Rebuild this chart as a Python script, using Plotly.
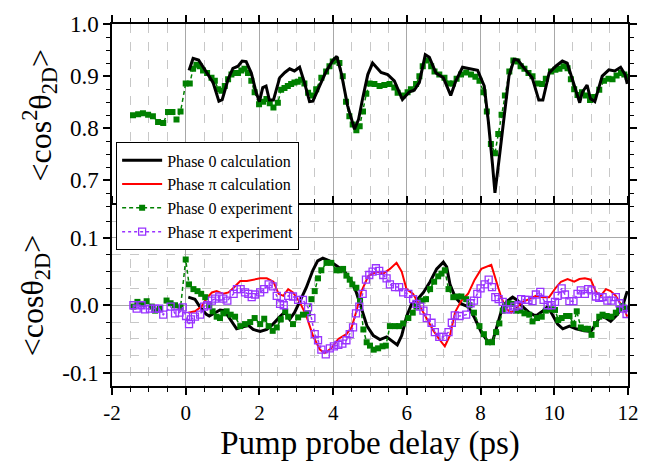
import plotly.graph_objects as go
from plotly.subplots import make_subplots

# ---------------- data ----------------
# Top panel: <cos^2 theta_2D>
calc0_top_x = [0.09, 0.2, 0.35, 0.56, 0.74, 0.90, 0.99, 1.15, 1.28, 1.42, 1.53, 1.64, 1.78, 1.91, 2.0,
               2.09, 2.18, 2.27, 2.38, 2.55, 2.69, 2.82, 2.95, 3.09, 3.22, 3.36, 3.45, 3.63, 3.81, 3.99,
               4.10, 4.22, 4.39, 4.58, 4.69, 4.80, 4.94, 5.07, 5.25, 5.30, 5.48, 5.66, 5.88, 6.07, 6.20,
               6.34, 6.50, 6.61, 6.79, 6.99, 7.19, 7.33, 7.51, 7.69, 7.92, 8.10, 8.21, 8.32, 8.39, 8.50,
               8.64, 8.77, 8.91, 9.01, 9.22, 9.40, 9.58, 9.69, 9.86, 10.04, 10.22, 10.35, 10.49, 10.69,
               10.76, 10.89, 10.98, 11.10, 11.30, 11.48, 11.64, 11.80, 11.92, 11.98]
calc0_top_y = [0.911, 0.934, 0.931, 0.909, 0.888, 0.852, 0.855, 0.894, 0.915, 0.919, 0.929, 0.928, 0.906, 0.869, 0.851,
               0.878, 0.881, 0.854, 0.854, 0.897, 0.907, 0.914, 0.910, 0.917, 0.888, 0.851, 0.852, 0.881, 0.909, 0.930,
               0.938, 0.906, 0.844, 0.798, 0.817, 0.857, 0.903, 0.925, 0.912, 0.907, 0.903, 0.891, 0.855, 0.870, 0.873,
               0.888, 0.941, 0.936, 0.906, 0.897, 0.863, 0.891, 0.917, 0.914, 0.911, 0.881, 0.814, 0.733, 0.676, 0.739,
               0.826, 0.900, 0.932, 0.931, 0.912, 0.897, 0.854, 0.854, 0.906, 0.919, 0.929, 0.925, 0.894, 0.849,
               0.869, 0.883, 0.857, 0.851, 0.900, 0.912, 0.910, 0.917, 0.903, 0.885]

exp0_top_x = [-1.43, -1.29, -1.16, -1.02, -0.89, -0.75, -0.61, -0.48, -0.36, -0.25, -0.14, 0.0, 0.11, 0.20,
              0.29, 0.38, 0.47, 0.58, 0.70, 0.79, 0.88, 0.97, 1.06, 1.15, 1.24, 1.33, 1.42, 1.51, 1.60, 1.69,
              1.78, 1.87, 1.99, 2.10, 2.19, 2.28, 2.38, 2.50, 2.59, 2.68, 2.77, 2.86, 2.95, 3.04, 3.13, 3.22,
              3.32, 3.45, 3.54, 3.68, 3.81, 3.90, 3.99, 4.08, 4.17, 4.26, 4.35, 4.44, 4.53, 4.63, 4.72, 4.81,
              4.90, 4.99, 5.12, 5.26, 5.39, 5.53, 5.66, 5.75, 5.89, 6.02, 6.11, 6.25, 6.34, 6.43, 6.54, 6.66,
              6.75, 6.88, 7.02, 7.14, 7.25, 7.35, 7.47, 7.61, 7.74, 7.86, 7.97, 8.08, 8.17, 8.28, 8.39, 8.48,
              8.57, 8.66, 8.78, 8.89, 9.00, 9.09, 9.19, 9.30, 9.41, 9.55, 9.67, 9.77, 9.91, 10.03, 10.14, 10.25,
              10.36, 10.45, 10.54, 10.63, 10.75, 10.86, 10.97, 11.08, 11.22, 11.35, 11.47, 11.58, 11.69, 11.81,
              11.90, 11.99]
exp0_top_y = [0.825, 0.827, 0.829, 0.826, 0.823, 0.812, 0.810, 0.831, 0.831, 0.817, 0.832, 0.886, 0.886, 0.914,
              0.922, 0.919, 0.911, 0.906, 0.897, 0.891, 0.875, 0.872, 0.881, 0.894, 0.903, 0.906, 0.906, 0.911, 0.914, 0.906,
              0.891, 0.869, 0.846, 0.851, 0.856, 0.848, 0.840, 0.849, 0.874, 0.877, 0.881, 0.885, 0.888, 0.889, 0.893, 0.886,
              0.868, 0.863, 0.875, 0.897, 0.909, 0.919, 0.928, 0.931, 0.925, 0.900, 0.851, 0.823, 0.807, 0.796, 0.804, 0.832,
              0.866, 0.886, 0.885, 0.881, 0.883, 0.885, 0.878, 0.868, 0.863, 0.869, 0.875, 0.885, 0.900, 0.919, 0.930, 0.919,
              0.909, 0.903, 0.897, 0.886, 0.886, 0.895, 0.903, 0.907, 0.903, 0.899, 0.891, 0.869, 0.832, 0.770, 0.752, 0.789,
              0.826, 0.863, 0.909, 0.930, 0.928, 0.919, 0.914, 0.906, 0.900, 0.886, 0.885, 0.895, 0.909, 0.912, 0.914, 0.919,
              0.915, 0.894, 0.875, 0.864, 0.869, 0.863, 0.854, 0.860, 0.874, 0.891, 0.895, 0.894, 0.901, 0.906,
              0.903, 0.899]

# Bottom panel: <cos theta_2D>
calc0_bot_x = [0.07, 0.25, 0.38, 0.55, 0.64, 0.78, 0.93, 1.05, 1.2, 1.38, 1.55, 1.70, 1.83, 2.02, 2.2, 2.37,
               2.55, 2.69, 2.82, 2.95, 3.09, 3.27, 3.45, 3.58, 3.72, 3.90, 4.08, 4.31, 4.50, 4.63, 4.77, 4.92,
               5.09, 5.27, 5.45, 5.63, 5.74, 5.86, 5.99, 6.13, 6.26, 6.45, 6.63, 6.81, 6.99, 7.08, 7.17, 7.31,
               7.48, 7.66, 7.84, 8.02, 8.20, 8.33, 8.47, 8.60, 8.74, 8.87, 9.01, 9.14, 9.32, 9.5, 9.68, 9.82,
               9.95, 10.09, 10.23, 10.41, 10.59, 10.81, 10.99, 11.13, 11.26, 11.40, 11.53, 11.71, 11.85, 11.98]
calc0_bot_y = [0.012, 0.009, -0.002, -0.013, -0.016, -0.012, -0.007, -0.008, -0.021, -0.035, -0.032, -0.030, -0.036, -0.039, -0.036, -0.028,
               -0.017, -0.010, -0.021, -0.011, 0.005, 0.026, 0.052, 0.066, 0.070, 0.066, 0.059, 0.050, 0.035, 0.019, -0.005, -0.031,
               -0.045, -0.051, -0.047, -0.054, -0.059, -0.045, -0.017, 0.002, 0.007, 0.019, 0.035, 0.054, 0.064, 0.057, 0.031, 0.012,
               0.002, -0.002, -0.019, -0.040, -0.054, -0.053, -0.026, -0.002, 0.007, 0.012, 0.007, -0.002, -0.011, -0.016, -0.009, -0.002,
               -0.014, -0.028, -0.035, -0.031, -0.035, -0.038, -0.039, -0.028, -0.016, -0.019, -0.024, -0.014, -0.002, 0.021]

calcpi_bot_x = [0.07, 0.25, 0.43, 0.55, 0.71, 0.84, 1.02, 1.16, 1.30, 1.48, 1.66, 1.84, 2.02, 2.20, 2.38, 2.52,
                2.65, 2.78, 2.91, 3.09, 3.27, 3.45, 3.64, 3.77, 3.95, 4.14, 4.36, 4.50, 4.63, 4.77, 4.95, 5.18,
                5.36, 5.54, 5.72, 5.86, 5.99, 6.17, 6.36, 6.54, 6.72, 6.90, 7.03, 7.17, 7.31, 7.48, 7.66, 7.84,
                8.02, 8.29, 8.42, 8.56, 8.69, 8.83, 8.96, 9.14, 9.32, 9.5, 9.68, 9.86, 10.04, 10.18, 10.36, 10.54,
                10.68, 10.83, 10.99, 11.13, 11.26, 11.40, 11.53, 11.67, 11.80, 11.89, 11.98]
calcpi_bot_y = [-0.011, -0.009, -0.002, 0.009, 0.019, 0.021, 0.017, 0.019, 0.026, 0.036, 0.036, 0.038, 0.040, 0.040, 0.035, 0.017,
                0.014, 0.024, 0.019, 0.005, -0.015, -0.045, -0.066, -0.071, -0.064, -0.050, -0.043, -0.033, -0.009, 0.021, 0.043, 0.050,
                0.047, 0.054, 0.063, 0.050, 0.024, 0.017, -0.002, -0.021, -0.038, -0.052, -0.061, -0.045, -0.010, 0.007, 0.017, 0.038,
                0.054, 0.060, 0.035, 0.012, -0.005, -0.011, -0.005, 0.005, 0.009, 0.014, 0.012, 0.012, 0.026, 0.035, 0.039, 0.035,
                0.039, 0.040, 0.038, 0.020, 0.014, 0.024, 0.021, 0.014, 0.002, -0.005, -0.017]

exp0_bot_x = [-1.42, -1.31, -1.17, -1.06, -0.92, -0.83, -0.70, -0.52, -0.41, -0.29, -0.14, 0.0, 0.09, 0.21,
              0.32, 0.42, 0.53, 0.64, 0.73, 0.84, 0.93, 1.02, 1.11, 1.22, 1.34, 1.48, 1.61, 1.75, 1.87, 2.02,
              2.13, 2.25, 2.36, 2.47, 2.58, 2.70, 2.78, 2.91, 3.05, 3.18, 3.32, 3.41, 3.50, 3.59, 3.68, 3.82,
              3.95, 4.09, 4.18, 4.27, 4.36, 4.45, 4.52, 4.63, 4.73, 4.82, 4.91, 5.00, 5.10, 5.22, 5.34, 5.43,
              5.54, 5.68, 5.79, 5.90, 6.04, 6.16, 6.26, 6.40, 6.52, 6.63, 6.74, 6.85, 6.94, 7.03, 7.13, 7.26,
              7.37, 7.48, 7.61, 7.70, 7.82, 7.97, 8.09, 8.20, 8.31, 8.42, 8.51, 8.60, 8.67, 8.76, 8.85, 8.96,
              9.08, 9.19, 9.32, 9.41, 9.53, 9.66, 9.77, 9.91, 10.02, 10.11, 10.20, 10.32, 10.41, 10.52, 10.61,
              10.72, 10.83, 10.92, 11.01, 11.13, 11.22, 11.31, 11.42, 11.55, 11.67, 11.76, 11.85, 11.94]
exp0_bot_y = [-0.002, 0.005, 0.002, 0.006, -0.002, -0.008, -0.005, 0.007, 0.003, 0.0, -0.003, 0.068, 0.031, 0.024,
              0.021, 0.017, 0.012, 0.0, -0.009, -0.017, -0.019, -0.012, -0.009, -0.014, -0.017, -0.031, -0.028, -0.025, -0.019, -0.028,
              -0.020, -0.031, -0.038, -0.033, -0.021, -0.009, -0.017, -0.028, -0.018, -0.014, -0.012, 0.009, 0.021, 0.040, 0.052, 0.063,
              0.063, 0.052, 0.052, 0.054, 0.044, 0.038, 0.031, 0.026, 0.007, -0.036, -0.055, -0.060, -0.066, -0.064, -0.061, -0.060,
              -0.031, -0.031, -0.031, -0.027, -0.019, -0.011, -0.002, 0.007, 0.009, 0.024, 0.035, 0.043, 0.047, 0.052, 0.024, 0.012,
              0.013, 0.013, 0.009, 0.0, -0.011, -0.031, -0.043, -0.055, -0.055, -0.040, -0.027, -0.008, 0.0, 0.003, 0.002, -0.008,
              -0.008, -0.012, -0.014, -0.024, -0.019, -0.017, -0.008, -0.006, -0.007, -0.022, -0.019, -0.016, -0.016, -0.028, -0.009,
              -0.033, -0.035, -0.035, -0.044, -0.028, -0.017, -0.014, -0.016, -0.017, -0.011, -0.005, -0.001, -0.005]

exppi_bot_x = [-1.42, -1.33, -1.20, -1.10, -0.97, -0.83, -0.72, -0.61, -0.41, -0.29, -0.17, -0.08, 0.01, 0.09,
               0.14, 0.25, 0.39, 0.50, 0.59, 0.71, 0.80, 0.91, 1.02, 1.13, 1.30, 1.39, 1.49, 1.61, 1.70, 1.79,
               1.88, 2.02, 2.13, 2.25, 2.36, 2.47, 2.56, 2.66, 2.78, 2.91, 3.05, 3.18, 3.32, 3.41, 3.50, 3.59,
               3.68, 3.80, 3.91, 4.02, 4.14, 4.25, 4.36, 4.45, 4.54, 4.62, 4.71, 4.80, 4.89, 4.98, 5.07, 5.16,
               5.25, 5.36, 5.45, 5.54, 5.68, 5.79, 5.90, 6.04, 6.17, 6.26, 6.36, 6.45, 6.54, 6.67, 6.76, 6.88,
               6.99, 7.13, 7.22, 7.30, 7.43, 7.61, 7.73, 7.82, 7.91, 8.00, 8.11, 8.22, 8.31, 8.40, 8.49, 8.60,
               8.69, 8.81, 8.92, 9.03, 9.10, 9.21, 9.30, 9.41, 9.50, 9.62, 9.71, 9.82, 9.93, 10.02, 10.09, 10.20,
               10.29, 10.41, 10.52, 10.63, 10.72, 10.83, 10.92, 11.01, 11.13, 11.22, 11.31, 11.44, 11.55, 11.67,
               11.77, 11.87, 11.96]
exppi_bot_y = [0.0, -0.005, 0.0, -0.006, -0.005, -0.005, -0.005, -0.014, -0.002, -0.012, -0.011, -0.003, -0.016, -0.028,
               -0.021, -0.017, -0.014, -0.002, 0.0, 0.007, 0.010, 0.013, 0.010, 0.007, 0.017, 0.024, 0.024, 0.019, 0.017, 0.012,
               0.016, 0.019, 0.024, 0.031, 0.028, 0.014, 0.002, 0.0, 0.014, 0.013, 0.008, 0.008, -0.003, -0.019, -0.043, -0.052,
               -0.066, -0.073, -0.064, -0.061, -0.059, -0.057, -0.052, -0.043, -0.033, -0.012, -0.002, 0.017, 0.038, 0.045, 0.050, 0.055,
               0.051, 0.045, 0.040, 0.031, 0.027, 0.027, 0.019, 0.017, 0.009, 0.002, -0.002, -0.008, -0.019, -0.026, -0.040, -0.047,
               -0.047, -0.040, -0.026, -0.015, -0.016, -0.014, 0.003, 0.007, 0.017, 0.025, 0.031, 0.038, 0.027, 0.012, 0.009, 0.005,
               -0.006, -0.006, -0.002, 0.0, 0.009, 0.008, 0.008, 0.006, 0.016, 0.020, 0.008, 0.0, 0.0, 0.005, 0.014, 0.025,
               0.016, 0.006, 0.006, 0.017, 0.022, 0.017, 0.024, 0.022, 0.013, 0.011, 0.012, 0.007, 0.007, 0.012,
               0.003, -0.005, -0.013]

x_tickvals = [-2, 0, 2, 4, 6, 8, 10, 12]
x_ticktext = ["-2", "0", "2", "4", "6", "8", "10", "12"]
ytop_tickvals = [0.7, 0.8, 0.9, 1.0]
ytop_ticktext = ["0.7", "0.8", "0.9", "1.0"]
ybot_tickvals = [-0.1, 0.0, 0.1]
ybot_ticktext = ["-0.1", "0.0", "0.1"]

names = ["Phase 0 calculation", "Phase \u03c0 calculation", "Phase 0 experiment", "Phase \u03c0 experiment"]

# ---------------- figure ----------------
FONT = "'Liberation Serif', 'Times New Roman', serif"
BLACK = "#000000"
RED = "#ff0000"
GREEN = "#008000"
PURPLE = "#9933ff"

fig = make_subplots(rows=2, cols=1, shared_xaxes=True, vertical_spacing=0)

# top panel
fig.add_trace(go.Scatter(x=exp0_top_x, y=exp0_top_y, mode="lines+markers", showlegend=False,
                         line=dict(color=GREEN, width=1.5, dash="4px,3px"),
                         marker=dict(symbol="square", size=6, color=GREEN)), row=1, col=1)
fig.add_trace(go.Scatter(x=calc0_top_x, y=calc0_top_y, mode="lines", showlegend=False,
                         line=dict(color=BLACK, width=3)), row=1, col=1)

# bottom panel
fig.add_trace(go.Scatter(x=calc0_bot_x, y=calc0_bot_y, mode="lines", name=names[0], legendrank=1,
                         line=dict(color=BLACK, width=3)), row=2, col=1)
fig.add_trace(go.Scatter(x=calcpi_bot_x, y=calcpi_bot_y, mode="lines", name=names[1], legendrank=2,
                         line=dict(color=RED, width=2)), row=2, col=1)
fig.add_trace(go.Scatter(x=exp0_bot_x, y=exp0_bot_y, mode="lines+markers", name=names[2], legendrank=3,
                         line=dict(color=GREEN, width=1.5, dash="4px,3px"),
                         marker=dict(symbol="square", size=6, color=GREEN)), row=2, col=1)
fig.add_trace(go.Scatter(x=exppi_bot_x, y=exppi_bot_y, mode="lines+markers", name=names[3], legendrank=4,
                         line=dict(color=PURPLE, width=1.5, dash="3px,3px"),
                         marker=dict(symbol="square-open", size=7, color=PURPLE, line=dict(width=1.3))),
              row=2, col=1)

axis_common = dict(showline=True, linecolor="black", linewidth=1.5, mirror="ticks",
                   ticks="outside", ticklen=7, tickwidth=1.5, tickcolor="black", zeroline=False)

xminor = dict(dtick=0.5, tick0=0, ticklen=4, tickwidth=1, tickcolor="black", ticks="outside",
              showgrid=True, gridcolor="#c8c8c8", griddash="dash", gridwidth=1)

fig.update_xaxes(range=[-2, 12], tickmode="array", tickvals=x_tickvals, ticktext=x_ticktext,
                 tickfont=dict(family=FONT, size=21, color="black"),
                 showgrid=True, gridcolor="#a8a8a8", gridwidth=1, minor=xminor, **axis_common)
fig.update_xaxes(showticklabels=False, row=1, col=1)
fig.update_xaxes(title=dict(text="Pump probe delay (ps)", font=dict(family=FONT, size=33, color="black"),
                            standoff=2), row=2, col=1)

fig.update_yaxes(range=[0.65, 1.0], domain=[0.496, 1.0],
                 tickmode="array", tickvals=ytop_tickvals, ticktext=ytop_ticktext,
                 tickfont=dict(family=FONT, size=23, color="black"),
                 showgrid=False,
                 minor=dict(dtick=0.025, tick0=0, ticklen=4, tickwidth=1, tickcolor="black", ticks="outside",
                            showgrid=False),
                 title=dict(text="&lt;cos<sup>2</sup>\u03b8<sub>2D</sub>&gt;",
                            font=dict(family=FONT, size=32, color="black"), standoff=9),
                 row=1, col=1, **axis_common)
fig.update_yaxes(range=[-0.12, 0.149], domain=[0.0, 0.5],
                 tickmode="array", tickvals=ybot_tickvals, ticktext=ybot_ticktext,
                 tickfont=dict(family=FONT, size=23, color="black"),
                 showgrid=True, gridcolor="#a8a8a8", gridwidth=1,
                 minor=dict(dtick=0.025, tick0=0, ticklen=4, tickwidth=1, tickcolor="black", ticks="outside",
                            showgrid=True, gridcolor="#c8c8c8", griddash="dash", gridwidth=1),
                 title=dict(text="&lt;cos\u03b8<sub>2D</sub>&gt;",
                            font=dict(family=FONT, size=32, color="black"), standoff=9),
                 row=2, col=1, **axis_common)

fig.update_layout(
    width=653, height=462,
    margin=dict(l=112, r=25, t=16, b=70),
    paper_bgcolor="white", plot_bgcolor="white",
    font=dict(family=FONT, color="black"),
    legend=dict(x=0.008, y=0.673, xanchor="left", yanchor="top",
                bgcolor="white", bordercolor="black", borderwidth=1,
                font=dict(family=FONT, size=16, color="black"),
                itemwidth=40, tracegroupgap=0),
)

fig.write_html("out.html")
